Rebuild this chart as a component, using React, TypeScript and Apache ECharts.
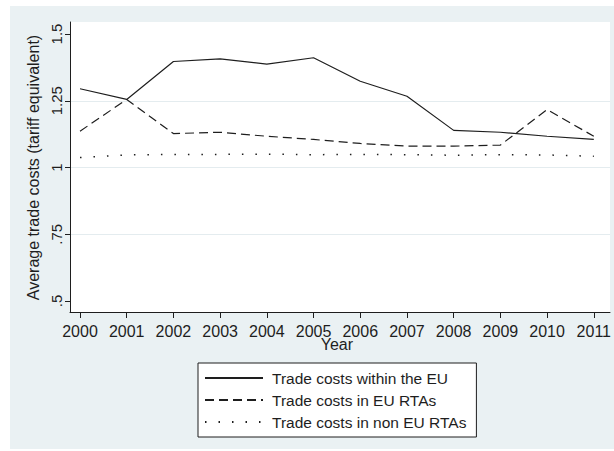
import React, { useEffect, useRef } from "react";
import * as echarts from "echarts";

const years = [2000, 2001, 2002, 2003, 2004, 2005, 2006, 2007, 2008, 2009, 2010, 2011];
const withinEU = [1.295, 1.255, 1.397, 1.407, 1.387, 1.411, 1.323, 1.267, 1.139, 1.132, 1.117, 1.105];
const euRTAs = [1.136, 1.255, 1.127, 1.132, 1.117, 1.105, 1.09, 1.08, 1.08, 1.084, 1.217, 1.117];
const nonEuRTAs = [1.037, 1.047, 1.049, 1.049, 1.05, 1.048, 1.049, 1.048, 1.046, 1.048, 1.047, 1.042];
const seriesNames = ["Trade costs within the EU", "Trade costs in EU RTAs", "Trade costs in non EU RTAs"];
const yTicks = [0.5, 0.75, 1, 1.25, 1.5];

const FONT = "'Liberation Sans', Arial, sans-serif";
const INK = "#1e1e1e";

export default function App() {
  const ref = useRef<HTMLDivElement>(null);
  useEffect(() => {
    if (!ref.current) return;
    const chart = echarts.init(ref.current, undefined, { renderer: "svg" });
    const pairs = (vals: number[]) => years.map((y, i) => [y, vals[i]]);
    const fmtY = (v: number) => String(v).replace(/^0\./, ".");
    chart.setOption({
      animation: false,
      textStyle: { fontFamily: FONT },
      graphic: [
        {
          type: "rect",
          z: -100,
          shape: { x: 10, y: 6, width: 604, height: 443 },
          style: { fill: "#eaf1f3" },
          silent: true,
        },
      ],
      grid: [
        { left: 70, right: 4, top: 22, bottom: 139, show: true, backgroundColor: "#ffffff", borderWidth: 0 },
        { left: 70, right: 4, top: 34, bottom: 150 },
        { left: 80, right: 14, top: 34, bottom: 150 },
      ],
      xAxis: [
        {
          gridIndex: 0, type: "value", min: 0, max: 1,
          axisLine: { show: true, onZero: false, lineStyle: { color: INK, width: 1 } },
          axisTick: { show: false }, axisLabel: { show: false }, splitLine: { show: false },
        },
        {
          gridIndex: 1, type: "value", min: 0, max: 1, show: false,
        },
        {
          gridIndex: 2, type: "value", min: 2000, max: 2011, interval: 1, offset: 11,
          axisLine: { show: false, onZero: false },
          axisTick: { show: true, length: 6, lineStyle: { color: INK, width: 1 } },
          axisLabel: { fontSize: 16, color: INK, margin: 11, fontFamily: FONT, formatter: (v: number) => String(v) },
          splitLine: { show: false },
          name: "Year", nameLocation: "middle", nameGap: 24, nameMoveOverlap: false,
          nameTextStyle: { fontSize: 16, color: INK, fontFamily: FONT },
        },
      ],
      yAxis: [
        {
          gridIndex: 0, type: "value", min: 0, max: 1,
          axisLine: { show: true, onZero: false, lineStyle: { color: INK, width: 1 } },
          axisTick: { show: false }, axisLabel: { show: false }, splitLine: { show: false },
        },
        {
          gridIndex: 1, type: "value", min: 0.5, max: 1.5, interval: 0.25,
          axisLine: { show: false }, axisTick: { show: false }, axisLabel: { show: false },
          splitLine: { show: true, showMinLine: false, showMaxLine: false, lineStyle: { color: "#e4ecef", width: 1 } },
        },
        {
          gridIndex: 2, type: "value", min: yTicks[0], max: yTicks[yTicks.length - 1], interval: 0.25, offset: 10,
          axisLine: { show: false, onZero: false },
          axisTick: { show: true, length: 5, lineStyle: { color: INK, width: 1 } },
          axisLabel: { fontSize: 15, color: INK, rotate: 90, margin: 6, fontFamily: FONT, formatter: fmtY },
          splitLine: { show: false },
          name: "Average trade costs (tariff equivalent)", nameLocation: "middle", nameGap: 26,
          nameTextStyle: { fontSize: 16, color: INK, fontFamily: FONT },
        },
      ],
      legend: {
        orient: "vertical",
        left: 198,
        top: 363,
        backgroundColor: "#ffffff",
        borderColor: INK,
        borderWidth: 1,
        borderRadius: 0,
        padding: [7, 10, 7, 6],
        itemWidth: 58,
        itemHeight: 14,
        itemGap: 6,
        itemStyle: { opacity: 0 },
        textStyle: { fontSize: 15.5, color: INK, fontFamily: FONT, lineHeight: 14, padding: [0, 0, 0, 4] },
        data: seriesNames,
      },
      series: [
        {
          name: seriesNames[0], type: "line", xAxisIndex: 2, yAxisIndex: 2, data: pairs(withinEU),
          symbol: "none", lineStyle: { color: INK, width: 1.2, type: "solid" }, itemStyle: { color: INK },
        },
        {
          name: seriesNames[1], type: "line", xAxisIndex: 2, yAxisIndex: 2, data: pairs(euRTAs),
          symbol: "none", lineStyle: { color: INK, width: 1.2, type: [9, 5] }, itemStyle: { color: INK },
        },
        {
          name: seriesNames[2], type: "line", xAxisIndex: 2, yAxisIndex: 2, data: pairs(nonEuRTAs),
          symbol: "none", lineStyle: { color: INK, width: 1.5, type: [1.5, 12] }, itemStyle: { color: INK },
        },
      ],
    });
    return () => chart.dispose();
  }, []);
  return (
    <div
      ref={ref}
      style={{ position: "fixed", left: 0, top: 0, width: 614, height: 451, background: "#ffffff" }}
    />
  );
}
